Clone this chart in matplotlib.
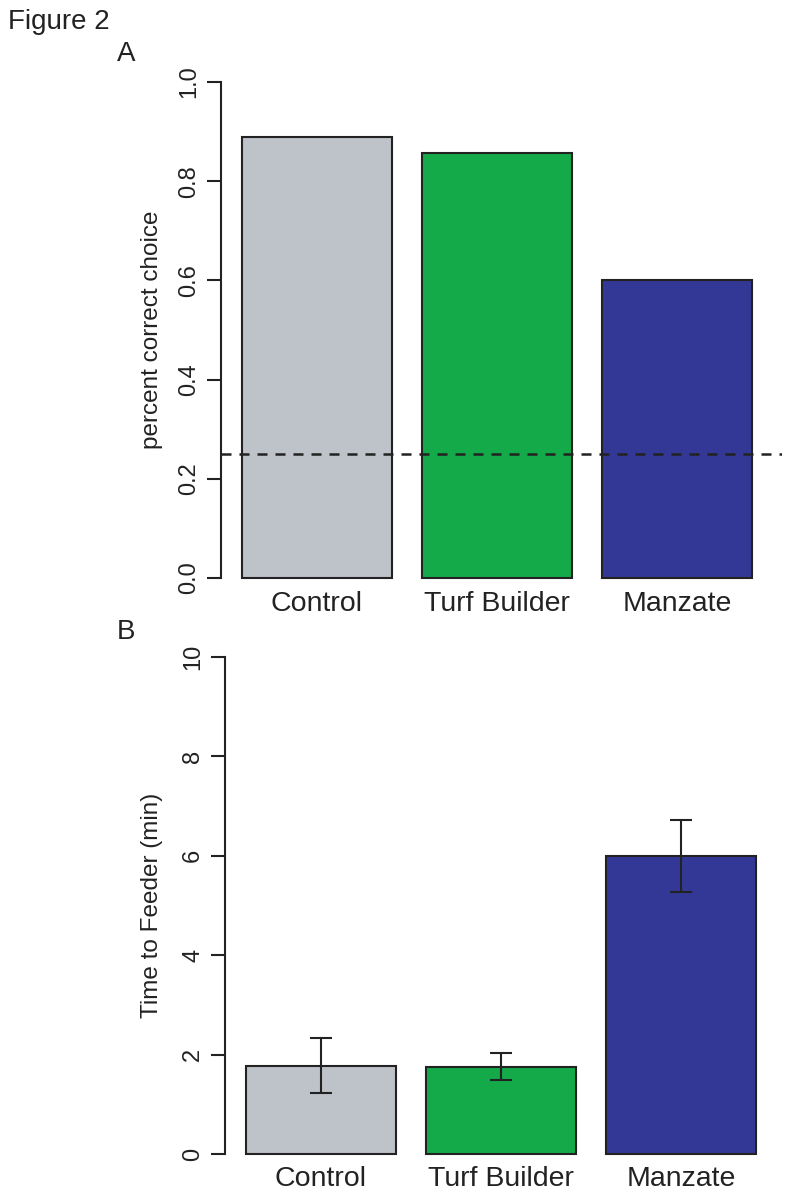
import matplotlib
matplotlib.use("Agg")
import matplotlib.pyplot as plt
import numpy as np

# values
groups = ["Control", "Turf Builder", "Manzate"]
colors = ["#bec2c9", "#14aa4a", "#333896"]
prop_correct = [0.889, 0.857, 0.600]
chance_level = 0.25
time_mean = [1.78, 1.76, 6.00]
time_se = [0.55, 0.27, 0.73]

plt.rcParams["font.family"] = ["Liberation Sans", "DejaVu Sans"]

W, H = 790, 1198
fig = plt.figure(figsize=(W / 100, H / 100), dpi=100)

# R barplot style positions: width 1, space 0.2
x = 0.7 + 1.2 * np.arange(len(groups))


def px_axes(left, right, bottom, top):
    return fig.add_axes([left / W, 1 - bottom / H, (right - left) / W, (bottom - top) / H])


def style(ax, ymax, yticks, ylabels, ylabel, label_x):
    for s in ["top", "right", "bottom"]:
        ax.spines[s].set_visible(False)
    ax.spines["left"].set_linewidth(1.5)
    ax.spines["left"].set_color("#222222")
    ax.set_xlim(0.06, 3.8)
    ax.set_ylim(0, ymax)
    ax.set_yticks(yticks)
    ax.set_yticklabels(ylabels, fontsize=17, color="#222222")
    for lab in ax.get_yticklabels():
        lab.set_rotation(90)
        lab.set_va("center")
    ax.tick_params(axis="y", length=10, width=1.5, color="#222222", pad=5)
    ax.set_xticks(x)
    ax.set_xticklabels(groups, fontsize=20.5, color="#222222")
    ax.tick_params(axis="x", length=0, pad=9)
    ax.set_ylabel(ylabel, fontsize=17.5, color="#222222")
    ax.yaxis.set_label_coords(label_x, 0.5)


# panel A
axA = px_axes(221, 782, 578, 82)
axA.bar(x, prop_correct, width=1.0, color=colors, edgecolor="#222222",
        linewidth=1.5, clip_on=False, zorder=2)
axA.axhline(chance_level, color="#222222", lw=1.8, ls=(0, (4, 3.2)), zorder=3)
style(axA, 1.0, np.arange(0, 1.01, 0.2),
      ["0.0", "0.2", "0.4", "0.6", "0.8", "1.0"], "percent correct choice", -0.103)

# panel B
axB = px_axes(225, 786, 1154, 657)
axB.bar(x, time_mean, width=1.0, color=colors, edgecolor="#222222",
        linewidth=1.5, clip_on=False, zorder=2)
axB.errorbar(x, time_mean, yerr=time_se, fmt="none", ecolor="#222222",
             elinewidth=1.5, capsize=8, capthick=1.5, zorder=3)
style(axB, 10, np.arange(0, 11, 2), ["0", "2", "4", "6", "8", "10"],
      "Time to Feeder (min)", -0.11)

fig.text(8 / W, 1 - 22 / H, "Figure 2", fontsize=20, color="#222222", va="center")
fig.text(117 / W, 1 - 54 / H, "A", fontsize=20, color="#222222", va="center")
fig.text(117 / W, 1 - 632 / H, "B", fontsize=20, color="#222222", va="center")

fig.savefig("out.png", dpi=100)
